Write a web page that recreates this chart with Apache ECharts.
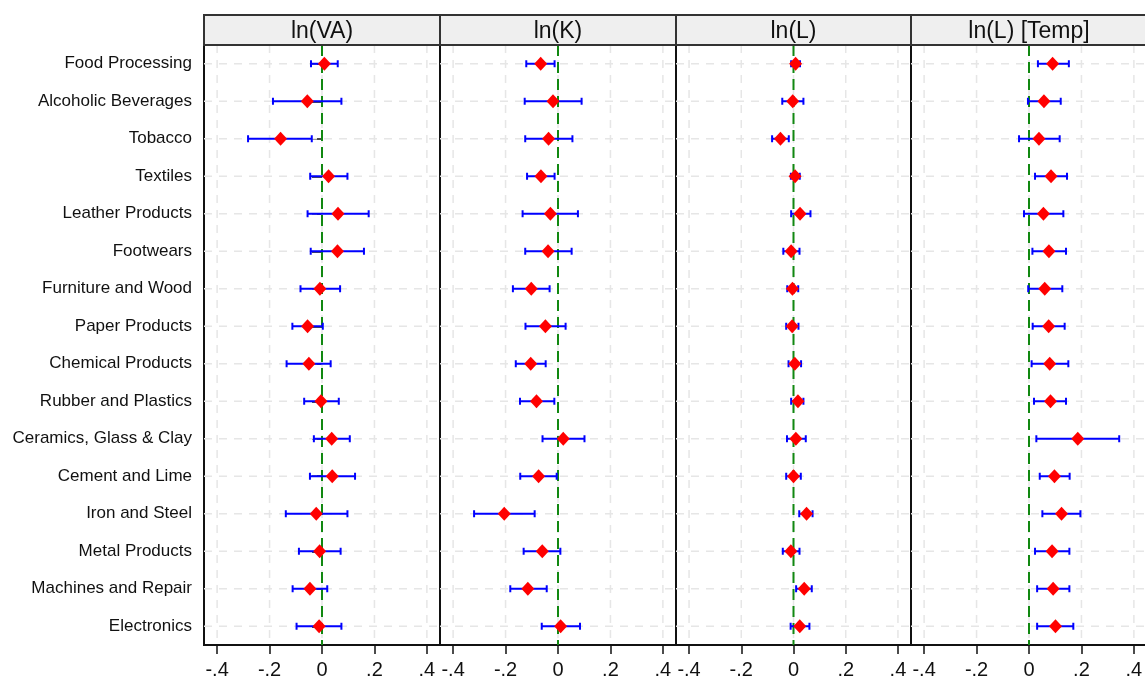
<!DOCTYPE html>
<html><head><meta charset="utf-8">
<script src="https://cdn.jsdelivr.net/npm/echarts@6/dist/echarts.min.js"></script>
<style>html,body{margin:0;padding:0;background:#fff}#c{width:1145px;height:678px}</style>
</head><body><div id="c"></div>
<script>
const categories = ['Food Processing','Alcoholic Beverages','Tobacco','Textiles','Leather Products','Footwears','Furniture and Wood','Paper Products','Chemical Products','Rubber and Plastics','Ceramics, Glass & Clay','Cement and Lime','Iron and Steel','Metal Products','Machines and Repair','Electronics'];
const panelTitles = ['ln(VA)','ln(K)','ln(L)','ln(L) [Temp]'];
const xTicks = [-0.4,-0.2,0,0.2,0.4];
const xTickLabels = ['-.4','-.2','0','.2','.4'];
const refLine = [0];

const vaCoef = [0.009,-0.056,-0.158,0.025,0.061,0.059,-0.008,-0.055,-0.050,-0.004,0.037,0.039,-0.022,-0.009,-0.046,-0.011];
const vaLo   = [-0.042,-0.187,-0.282,-0.045,-0.055,-0.043,-0.082,-0.113,-0.135,-0.068,-0.031,-0.046,-0.138,-0.088,-0.112,-0.097];
const vaHi   = [0.060,0.074,-0.039,0.097,0.178,0.160,0.069,0.003,0.033,0.064,0.106,0.126,0.097,0.071,0.020,0.074];

const kCoef = [-0.066,-0.019,-0.036,-0.065,-0.029,-0.038,-0.102,-0.048,-0.104,-0.082,0.020,-0.074,-0.205,-0.060,-0.115,0.010];
const kLo   = [-0.121,-0.127,-0.125,-0.118,-0.135,-0.125,-0.172,-0.124,-0.161,-0.145,-0.059,-0.144,-0.320,-0.131,-0.182,-0.062];
const kHi   = [-0.013,0.090,0.055,-0.013,0.076,0.052,-0.032,0.029,-0.047,-0.014,0.101,-0.005,-0.089,0.009,-0.043,0.084];

const lCoef = [0.008,-0.003,-0.050,0.006,0.025,-0.009,-0.004,-0.005,0.005,0.017,0.009,0.000,0.050,-0.010,0.041,0.024];
const lLo   = [-0.009,-0.043,-0.082,-0.010,-0.009,-0.039,-0.024,-0.028,-0.019,-0.009,-0.025,-0.028,0.022,-0.041,0.010,-0.011];
const lHi   = [0.025,0.038,-0.018,0.024,0.065,0.023,0.018,0.019,0.029,0.038,0.047,0.028,0.073,0.023,0.070,0.061];

const ltCoef = [0.090,0.057,0.038,0.084,0.055,0.076,0.060,0.075,0.079,0.082,0.186,0.097,0.124,0.088,0.092,0.101];
const ltLo   = [0.034,-0.004,-0.038,0.023,-0.019,0.013,-0.003,0.014,0.010,0.019,0.028,0.041,0.051,0.023,0.031,0.031];
const ltHi   = [0.152,0.121,0.117,0.145,0.131,0.141,0.127,0.136,0.150,0.141,0.344,0.155,0.196,0.154,0.154,0.169];

const panels = [
  {coef: vaCoef, lo: vaLo, hi: vaHi},
  {coef: kCoef, lo: kLo, hi: kHi},
  {coef: lCoef, lo: lLo, hi: lHi},
  {coef: ltCoef, lo: ltLo, hi: ltHi}
];

const FONT = '"Liberation Sans", Arial, Helvetica, sans-serif';
const lefts = [204, 440, 676, 911];
const widths = [236, 236, 235, 236];
const gTop = 45, gHeight = 600;

function renderErr(params, api) {
  const cat = api.value(1);
  const p1 = api.coord([api.value(0), cat]);
  const p2 = api.coord([api.value(2), cat]);
  const h = 7;
  const style = {stroke: '#0000ff', lineWidth: 2};
  return {type: 'group', children: [
    {type: 'line', shape: {x1: p1[0], y1: p1[1], x2: p2[0], y2: p2[1]}, style: style},
    {type: 'line', shape: {x1: p1[0], y1: p1[1] - h/2, x2: p1[0], y2: p1[1] + h/2}, style: style},
    {type: 'line', shape: {x1: p2[0], y1: p2[1] - h/2, x2: p2[0], y2: p2[1] + h/2}, style: style}
  ]};
}
function vLine(color, dash, width) {
  return function (params, api) {
    const cs = params.coordSys;
    const x = api.coord([api.value(0), api.value(1)])[0];
    return {type: 'line', shape: {x1: x, y1: cs.y, x2: x, y2: cs.y + cs.height},
      style: {stroke: color, lineWidth: width, lineDash: dash}};
  };
}
function hLine(params, api) {
  const cs = params.coordSys;
  const y = api.coord([api.value(0), api.value(1)])[1];
  return {type: 'line', shape: {x1: cs.x, y1: y, x2: cs.x + cs.width, y2: y},
    style: {stroke: '#e6e6e6', lineWidth: 1.5, lineDash: [8, 7]}};
}

const grid = [], xAxis = [], yAxis = [], series = [], graphic = [];
panels.forEach((p, i) => {
  grid.push({left: lefts[i], top: gTop, width: widths[i], height: gHeight, show: true,
    outerBoundsMode: 'none', containLabel: false,
    borderColor: '#111', borderWidth: 2, backgroundColor: '#fff'});
  xAxis.push({type: 'value', gridIndex: i, min: -0.45, max: 0.45,
    axisLine: {show: false},
    axisTick: {show: true, customValues: xTicks, length: 9, lineStyle: {color: '#111', width: 1.5}},
    axisLabel: {show: true, customValues: xTicks, fontSize: 20, color: '#111', margin: 15, fontFamily: FONT,
      formatter: v => { const k = xTicks.findIndex(t => Math.abs(t - v) < 1e-9); return k >= 0 ? xTickLabels[k] : ''; }},
    splitLine: {show: false}});
  yAxis.push({type: 'category', gridIndex: i, data: categories, inverse: true, boundaryGap: true,
    axisLine: {show: false},
    axisTick: {show: i === 0, alignWithLabel: true, length: 10, lineStyle: {color: '#111', width: 1.5}},
    axisLabel: {show: i === 0, fontSize: 17, color: '#111', margin: 12, fontFamily: FONT, padding: [4, 0, 0, 0]},
    splitLine: {show: false}});
  series.push({type: 'custom', xAxisIndex: i, yAxisIndex: i, z: 1, silent: true,
    renderItem: vLine('#e6e6e6', [8, 7], 1.5),
    data: xTicks.map(v => [v, categories[0]])});
  series.push({type: 'custom', xAxisIndex: i, yAxisIndex: i, z: 1, silent: true,
    renderItem: hLine,
    data: categories.map(c => [0, c])});
  series.push({type: 'custom', xAxisIndex: i, yAxisIndex: i, z: 2, silent: true,
    renderItem: vLine('#118811', [11, 6], 2),
    data: refLine.map(v => [v, categories[0]])});
  series.push({type: 'custom', xAxisIndex: i, yAxisIndex: i, z: 3, renderItem: renderErr,
    encode: {x: [0, 2], y: 1},
    data: categories.map((c, k) => [p.lo[k], c, p.hi[k]])});
  series.push({type: 'scatter', xAxisIndex: i, yAxisIndex: i, z: 4, symbol: 'diamond', symbolSize: [13, 14],
    itemStyle: {color: '#ff0000', opacity: 1},
    data: categories.map((c, k) => [p.coef[k], c])});
  graphic.push({type: 'rect', shape: {x: lefts[i], y: 15, width: widths[i], height: 30},
    style: {fill: '#efefef', stroke: '#333', lineWidth: 2}, z: 10});
  graphic.push({type: 'text', x: lefts[i] + widths[i] / 2, y: 32, z: 11,
    style: {text: panelTitles[i], font: '23px ' + FONT, fill: '#111', align: 'center', verticalAlign: 'middle'}});
});

const chart = echarts.init(document.getElementById('c'), null, {renderer: 'canvas'});
chart.setOption({
  animation: false,
  backgroundColor: '#fff',
  textStyle: {fontFamily: FONT},
  grid, xAxis, yAxis, series, graphic
});
</script></body></html>
